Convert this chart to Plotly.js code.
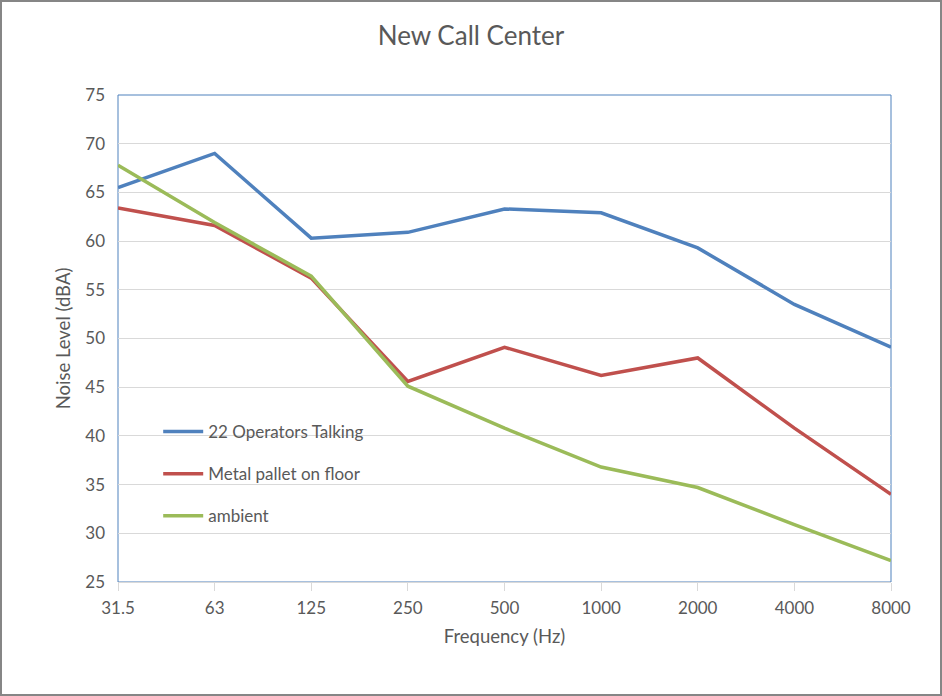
<!DOCTYPE html>
<html><head><meta charset="utf-8">
<script src="https://cdn.plot.ly/plotly-3.0.1.min.js"></script>
<style>body{margin:0;background:#fff}#wrap{position:relative;width:942px;height:696px}#chart{width:942px;height:696px}#frame{position:absolute;left:0;top:0;width:942px;height:696px;box-sizing:border-box;border:2px solid #868686;pointer-events:none}</style>
</head><body><div id="wrap"><div id="chart"></div><div id="frame"></div></div>
<script>
const categories = ["31.5","63","125","250","500","1000","2000","4000","8000"];
const operators = [65.5, 69.0, 60.3, 60.9, 63.3, 62.9, 59.3, 53.5, 49.1];
const pallet = [63.4, 61.6, 56.2, 45.6, 49.1, 46.2, 48.0, 40.8, 34.0];
const ambient = [67.8, 61.9, 56.4, 45.1, 40.8, 36.8, 34.7, 30.9, 27.2];
const seriesNames = ["22 Operators Talking", "Metal pallet on floor", "ambient"];
const colors = ["#4f81bd", "#c0504d", "#9bbb59"];
const series = [operators, pallet, ambient];
const FONT = "Lato, 'Open Sans', sans-serif";
const traces = series.map((v, i) => ({
  x: categories, y: v, type: "scatter", mode: "lines", name: seriesNames[i],
  legendgroup: "g" + i,
  line: {color: colors[i], width: 3.5}
}));
const layout = {
  width: 942, height: 696,
  margin: {l: 118, r: 50.5, t: 94.5, b: 113.5},
  paper_bgcolor: "#fff", plot_bgcolor: "#fff",
  font: {family: FONT, color: "#595959", size: 17},
  title: {text: "New Call Center", font: {size: 26, color: "#595959", family: FONT}, x: 0.5, xanchor: "center", y: 0.948, yanchor: "middle"},
  xaxis: {type: "category", range: [0, 8], showgrid: false, showline: true, linecolor: "#d9d9d9", linewidth: 1,
    ticks: "outside", ticklen: 8, tickcolor: "#d9d9d9", ticklabelstandoff: 3, tickfont: {size: 17, color: "#595959"},
    title: {text: "Frequency (Hz)", font: {size: 18.5, color: "#595959"}, standoff: 12}},
  yaxis: {range: [25, 75], dtick: 5, showgrid: true, gridcolor: "#d9d9d9", gridwidth: 1, zeroline: false,
    showline: false, ticks: "", ticklabelstandoff: 12, tickfont: {size: 17, color: "#595959"},
    title: {text: "Noise Level (dBA)", font: {size: 18.5, color: "#595959"}, standoff: 9}},
  shapes: [{type: "rect", xref: "paper", yref: "paper", x0: 0, x1: 1, y0: 0, y1: 1, line: {color: "#4f81bd", width: 1}, layer: "below"}],
  showlegend: true,
  legend: {x: 0.052, y: 0.345, xanchor: "left", yanchor: "top", bgcolor: "rgba(0,0,0,0)", traceorder: "grouped", tracegroupgap: 17,
    font: {size: 17, color: "#595959"}, itemwidth: 40}
};
Plotly.newPlot("chart", traces, layout, {displayModeBar: false, staticPlot: true});
</script></body></html>
